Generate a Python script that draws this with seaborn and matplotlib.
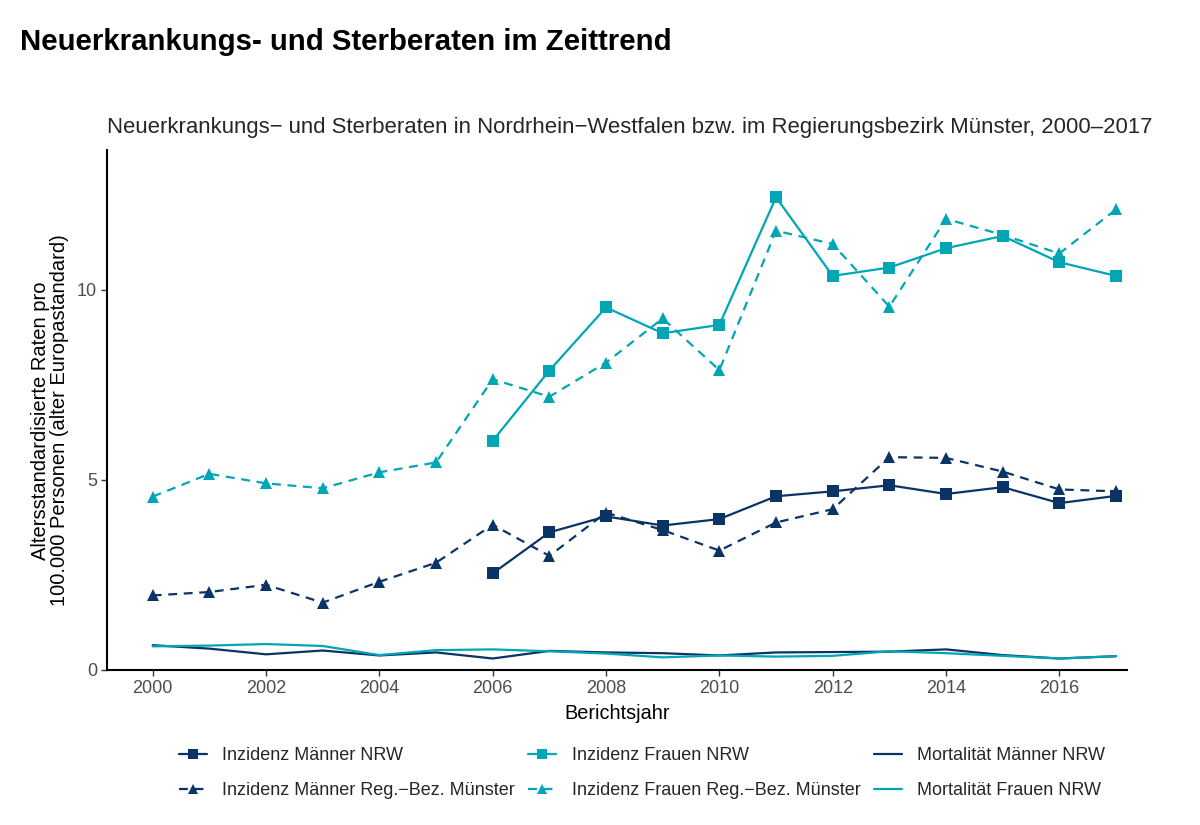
import numpy as np
import pandas as pd
import matplotlib
matplotlib.use("Agg")
import matplotlib.pyplot as plt
import seaborn as sns

# Data
years_all = list(range(2000, 2018))
years_nrw = list(range(2006, 2018))

inz_maenner_nrw = [2.54, 3.62, 4.04, 3.80, 3.97, 4.57, 4.70, 4.86, 4.63, 4.81, 4.39, 4.58]
inz_frauen_nrw = [6.03, 7.88, 9.54, 8.86, 9.08, 12.44, 10.37, 10.59, 11.10, 11.42, 10.73, 10.37]
inz_maenner_ms = [1.96, 2.05, 2.24, 1.77, 2.32, 2.82, 3.82, 3.00, 4.14, 3.68,
                  3.14, 3.88, 4.23, 5.60, 5.58, 5.22, 4.75, 4.70]
inz_frauen_ms = [4.56, 5.16, 4.91, 4.78, 5.20, 5.46, 7.65, 7.19, 8.09, 9.25,
                 7.89, 11.56, 11.21, 9.56, 11.87, 11.45, 10.96, 12.12]
mort_maenner_nrw = [0.65, 0.56, 0.41, 0.51, 0.38, 0.46, 0.30, 0.50, 0.46, 0.44,
                    0.38, 0.46, 0.47, 0.48, 0.54, 0.39, 0.30, 0.36]
mort_frauen_nrw = [0.62, 0.64, 0.68, 0.63, 0.39, 0.52, 0.54, 0.49, 0.43, 0.33,
                   0.38, 0.35, 0.37, 0.49, 0.44, 0.37, 0.30, 0.36]

navy = "#0b3466"
teal = "#00a6b5"

sns.set_style("white")
plt.rcParams["font.family"] = ["Liberation Sans", "DejaVu Sans"]

fig = plt.figure(figsize=(12, 8.25), dpi=100)
ax = fig.add_axes([0.089, 0.188, 0.850, 0.630])

series = [
    ("Inzidenz Männer NRW", years_nrw, inz_maenner_nrw, navy, "s", "-"),
    ("Inzidenz Männer Reg.−Bez. Münster", years_all, inz_maenner_ms, navy, "^", "--"),
    ("Inzidenz Frauen NRW", years_nrw, inz_frauen_nrw, teal, "s", "-"),
    ("Inzidenz Frauen Reg.−Bez. Münster", years_all, inz_frauen_ms, teal, "^", "--"),
    ("Mortalität Männer NRW", years_all, mort_maenner_nrw, navy, None, "-"),
    ("Mortalität Frauen NRW", years_all, mort_frauen_nrw, teal, None, "-"),
]

for label, xs, ys, col, mk, ls in series:
    df = pd.DataFrame({"Jahr": xs, "Rate": ys})
    kw = dict(marker=mk, markersize=8 if mk == "s" else 9, markeredgewidth=0) if mk else {}
    if ls == "--":
        kw["dashes"] = (4, 3)
    sns.lineplot(data=df, x="Jahr", y="Rate", ax=ax, color=col, linewidth=1.6,
                 label=label, legend=False, **kw)

ax.set_xlim(1999.19, 2017.19)
ax.set_ylim(0, 13.68)
ax.set_xticks(range(2000, 2017, 2))
ax.set_yticks([0, 5, 10])
ax.tick_params(axis="both", labelsize=13, labelcolor="#4d4d4d", color="#333333",
               length=4, width=1, direction="out", bottom=True, left=True, pad=3)

for side in ["top", "right"]:
    ax.spines[side].set_visible(False)
for side in ["left", "bottom"]:
    ax.spines[side].set_color("black")
    ax.spines[side].set_linewidth(1.5)

ax.set_xlabel("Berichtsjahr", fontsize=14.3, color="black", labelpad=5)
ax.set_ylabel("Altersstandardisierte Raten pro\n100.000 Personen (alter Europastandard)",
              fontsize=14.5, color="black", linespacing=1.0)
ax.yaxis.set_label_coords(-0.037, 0.48)
ax.set_title("Neuerkrankungs− und Sterberaten in Nordrhein−Westfalen bzw. im Regierungsbezirk Münster, 2000–2017",
             loc="left", fontsize=15.9, pad=12)

fig.text(0.017, 0.949, "Neuerkrankungs- und Sterberaten im Zeittrend",
         fontsize=21.2, fontweight="bold", va="center", ha="left", color="black")

handles, labels = ax.get_legend_handles_labels()
leg = fig.legend(handles, labels, ncol=3, loc="center", bbox_to_anchor=(0.535, 0.063),
                 frameon=False, fontsize=13, handlelength=1.55, columnspacing=0.75,
                 labelspacing=1.0, handletextpad=0.85)
for h in leg.legend_handles:
    h.set_markersize(7)

fig.savefig("out.png", dpi=100)
